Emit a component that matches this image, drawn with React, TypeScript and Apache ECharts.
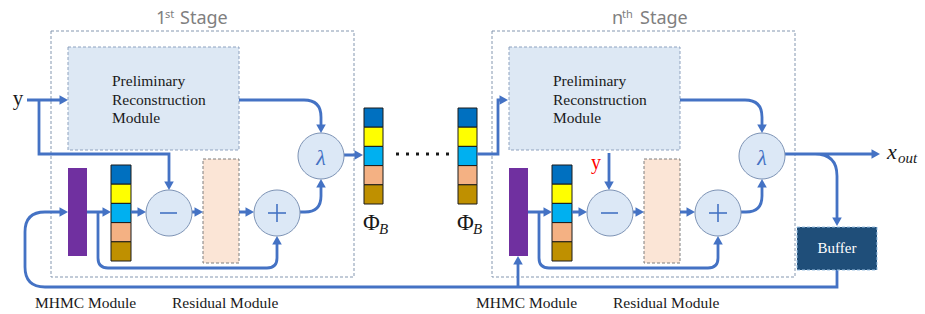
import React, { useEffect, useRef } from 'react';
import * as echarts from 'echarts';

// ---- content ----
const stageTitles = [
  ['1', 'st', 'Stage'],
  ['n', 'th', 'Stage'],
];
const prmLines = ['Preliminary', 'Reconstruction', 'Module'];
const moduleLabels = ['MHMC Module', 'Residual Module'];
const cellColors = ['#0070c0', '#ffff00', '#00b0f0', '#f4b183', '#bf9000'];
const phiLabel = ['Φ', 'B'];
const outputLabel = ['x', 'out'];
const inputLabel = 'y';
const bufferLabel = 'Buffer';
const lambdaLabel = 'λ';
const dotCount = 6;

// ---- styles ----
const BLUE = '#4472c4';
const SERIF = '"Liberation Serif", "Times New Roman", serif';
const SANS = '"Noto Sans", "DejaVu Sans", sans-serif';
const CIRCLE_FILL = '#dce8f6';
const CIRCLE_STROKE = '#7d93b5';
const STAGE_DX = [0, 441];

function arrow(x: number, y: number, d: string) {
  const L = 8.5, W = 4.8;
  let pts: number[][];
  if (d === 'r') pts = [[x, y], [x - L, y - W], [x - L, y + W]];
  else if (d === 'l') pts = [[x, y], [x + L, y - W], [x + L, y + W]];
  else if (d === 'd') pts = [[x, y], [x - W, y - L], [x + W, y - L]];
  else pts = [[x, y], [x - W, y + L], [x + W, y + L]];
  return { type: 'polygon', shape: { points: pts }, style: { fill: BLUE }, z: 5 };
}

// ---- wire paths ----
let wires = '';
const arrows: any[] = [];
STAGE_DX.forEach((dx) => {
  const X = (v: number) => v + dx;
  wires += `M${X(239)} 100 H${X(304)} Q${X(321)} 100 ${X(321)} 117 V${125} `;
  arrows.push(arrow(X(321), 133, 'd'));
  wires += `M${X(87)} 212 H${X(104)} `;
  arrows.push(arrow(X(111), 212, 'r'));
  wires += `M${X(98)} 212 V258 Q${X(98)} 268 ${X(108)} 268 H${X(267)} Q${X(277)} 268 ${X(277)} 258 V244 `;
  arrows.push(arrow(X(277), 236, 'u'));
  wires += `M${X(131)} 212 H${X(139)} `;
  arrows.push(arrow(X(146), 212, 'r'));
  wires += `M${X(192)} 212 H${X(196)} `;
  arrows.push(arrow(X(203), 212, 'r'));
  wires += `M${X(239)} 212 H${X(247)} `;
  arrows.push(arrow(X(254), 212, 'r'));
  wires += `M${X(300)} 212 H${X(305)} Q${X(321)} 212 ${X(321)} 196 V187 `;
  arrows.push(arrow(X(321), 179, 'u'));
});
wires += 'M27 100 H60 ';
arrows.push(arrow(68, 100, 'r'));
wires += 'M39 100 V154 H169 V182 ';
arrows.push(arrow(169, 190, 'd'));
wires += 'M344 155 H356 ';
arrows.push(arrow(363, 155, 'r'));
wires += 'M477 154 H498 V100 H501 ';
arrows.push(arrow(508, 100, 'r'));
wires += 'M609 153 V182 ';
arrows.push(arrow(609, 190, 'd'));
wires += 'M785 154 H872 ';
arrows.push(arrow(880, 154, 'r'));
wires += 'M815 154 Q837 154 837 176 V218 ';
arrows.push(arrow(837, 226, 'd'));
wires += 'M837 270 V287 H45 Q25 287 25 267 V232 Q25 212 45 212 H60 ';
arrows.push(arrow(68, 212, 'r'));
wires += 'M518 287 V264 ';
arrows.push(arrow(518, 256, 'u'));

echarts.graphic.registerShape('wires', echarts.graphic.extendPath(wires, {}));

function buildElements() {
  const els: any[] = [];
  const titleX = [[156, 165, 180], [612, 622, 640]];

  STAGE_DX.forEach((dx, s) => {
    const X = (v: number) => v + dx;
    els.push({
      type: 'rect', shape: { x: X(51), y: 31, width: 303, height: 246 },
      style: { fill: 'none', stroke: '#8497b0', lineWidth: 1, lineDash: [3, 2] },
    });
    const t = stageTitles[s];
    els.push({ type: 'text', x: titleX[s][0], y: 17, style: { text: t[0], font: `18px ${SANS}`, fill: '#808080', verticalAlign: 'middle' } });
    els.push({ type: 'text', x: titleX[s][1], y: 13, style: { text: t[1], font: `11px ${SANS}`, fill: '#808080', verticalAlign: 'middle' } });
    els.push({ type: 'text', x: titleX[s][2], y: 17, style: { text: t[2], font: `18px ${SANS}`, fill: '#808080', verticalAlign: 'middle' } });
    els.push({
      type: 'rect', shape: { x: X(68), y: 47, width: 171, height: 103 },
      style: { fill: '#dde8f4', stroke: '#8ea2bf', lineWidth: 1, lineDash: [3, 2] },
    });
    [80, 99, 117].forEach((yy, i) => {
      els.push({ type: 'text', x: X(112), y: yy, style: { text: prmLines[i], font: `15.5px ${SERIF}`, fill: '#1a1a1a', verticalAlign: 'middle' } });
    });
    els.push({ type: 'rect', shape: { x: X(68), y: 168, width: 19, height: 88 }, style: { fill: '#7030a0' } });
    cellColors.forEach((c, i) => {
      els.push({
        type: 'rect', shape: { x: X(111), y: 165 + i * 19.2, width: 20, height: 19.2 },
        style: { fill: c, stroke: '#1a1a1a', lineWidth: 1 },
      });
    });
    els.push({
      type: 'rect', shape: { x: X(203), y: 159, width: 36, height: 104 },
      style: { fill: '#fbe5d6', stroke: '#7f7f7f', lineWidth: 1, lineDash: [3, 2] },
    });
    [[169, 213], [277, 213], [321, 156]].forEach(([cx, cy]) => {
      els.push({ type: 'circle', shape: { cx: X(cx), cy, r: 23 }, style: { fill: CIRCLE_FILL, stroke: CIRCLE_STROKE, lineWidth: 1 }, z: 2 });
    });
    els.push({ type: 'line', shape: { x1: X(160), y1: 213, x2: X(177), y2: 213 }, style: { stroke: BLUE, lineWidth: 1.6 }, z: 3 });
    els.push({ type: 'line', shape: { x1: X(268), y1: 213, x2: X(286), y2: 213 }, style: { stroke: BLUE, lineWidth: 1.6 }, z: 3 });
    els.push({ type: 'line', shape: { x1: X(277), y1: 204, x2: X(277), y2: 222 }, style: { stroke: BLUE, lineWidth: 1.6 }, z: 3 });
    els.push({ type: 'text', x: X(321), y: 157, style: { text: lambdaLabel, font: `italic 22px ${SERIF}`, fill: BLUE, align: 'center', verticalAlign: 'middle' }, z: 3 });
    els.push({ type: 'text', x: X(35), y: 302, style: { text: moduleLabels[0], font: `15.5px ${SERIF}`, fill: '#1a1a1a', verticalAlign: 'middle' } });
    els.push({ type: 'text', x: X(172), y: 302, style: { text: moduleLabels[1], font: `15.5px ${SERIF}`, fill: '#1a1a1a', verticalAlign: 'middle' } });
  });

  [364, 458].forEach((cx) => {
    cellColors.forEach((c, i) => {
      els.push({
        type: 'rect', shape: { x: cx, y: 108 + i * 19.2, width: 19, height: 19.2 },
        style: { fill: c, stroke: '#1a1a1a', lineWidth: 1 },
      });
    });
    els.push({ type: 'text', x: cx - 1, y: 222, style: { text: phiLabel[0], font: `23px ${SERIF}`, fill: '#1a1a1a', verticalAlign: 'middle' } });
    els.push({ type: 'text', x: cx + 15, y: 229, style: { text: phiLabel[1], font: `italic 15px ${SERIF}`, fill: '#1a1a1a', verticalAlign: 'middle' } });
  });
  for (let i = 0; i < dotCount; i++) {
    els.push({ type: 'rect', shape: { x: 396 + i * 10, y: 152.5, width: 3, height: 3 }, style: { fill: '#1a1a1a' } });
  }

  els.push({ type: 'text', x: 18, y: 98, style: { text: inputLabel, font: `21px ${SERIF}`, fill: '#1a1a1a', align: 'center', verticalAlign: 'middle' } });
  els.push({ type: 'text', x: 596, y: 162, style: { text: inputLabel, font: `20px ${SERIF}`, fill: '#ff0000', align: 'center', verticalAlign: 'middle' } });

  els.push({ type: 'text', x: 887, y: 151, style: { text: outputLabel[0], font: `italic 22px ${SERIF}`, fill: '#1a1a1a', verticalAlign: 'middle' } });
  els.push({ type: 'text', x: 898, y: 158, style: { text: outputLabel[1], font: `italic 15px ${SERIF}`, fill: '#1a1a1a', verticalAlign: 'middle' } });

  els.push({
    type: 'rect', shape: { x: 797, y: 227, width: 80, height: 43 },
    style: { fill: '#1f4e79', stroke: '#9dc3e6', lineWidth: 1, lineDash: [3, 2] }, z: 2,
  });
  els.push({ type: 'text', x: 837, y: 248, style: { text: bufferLabel, font: `15px ${SERIF}`, fill: '#ffffff', align: 'center', verticalAlign: 'middle' }, z: 3 });

  els.push({ type: 'wires', x: 0, y: 0, style: { fill: 'none', stroke: BLUE, lineWidth: 2.8 }, z: 1 });
  arrows.forEach((a) => els.push(a));
  return els;
}

export default function App() {
  const ref = useRef<HTMLDivElement>(null);
  useEffect(() => {
    if (!ref.current) return;
    const chart = echarts.init(ref.current, null, { renderer: 'svg' });
    chart.setOption({
      animation: false,
      backgroundColor: '#ffffff',
      graphic: { elements: buildElements() },
    });
    return () => chart.dispose();
  }, []);
  return (
    <div
      ref={ref}
      style={{ position: 'fixed', left: 0, top: 0, width: 925, height: 314 }}
    />
  );
}
